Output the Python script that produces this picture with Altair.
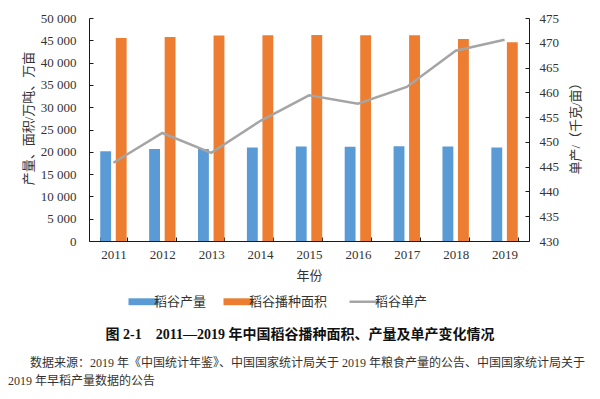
import altair as alt
import pandas as pd

# ---- data ----
years = ["2011", "2012", "2013", "2014", "2015", "2016", "2017", "2018", "2019"]
production = [20100, 20653, 20629, 20961, 21214, 21109, 21268, 21213, 20961]   # 万吨
area = [45507, 45714, 46065, 46148, 46176, 46119, 46121, 45284, 44541]         # 万亩
unit_yield = [445.8, 451.8, 447.8, 454.2, 459.4, 457.7, 461.1, 468.4, 470.6]   # 千克/亩

bar_series = ["稻谷产量", "稻谷播种面积"]
line_series = "稻谷单产"
series_colors = ["#5B9BD5", "#ED7D31", "#A5A5A5"]

left_ticks = [0, 5000, 10000, 15000, 20000, 25000, 30000, 35000, 40000, 45000, 50000]
right_ticks = [430, 435, 440, 445, 450, 455, 460, 465, 470, 475]

caption = "图 2-1　2011—2019 年中国稻谷播种面积、产量及单产变化情况"
source_1 = "数据来源：2019 年《中国统计年鉴》、中国国家统计局关于 2019 年粮食产量的公告、中国国家统计局关于"
source_2 = "2019 年早稻产量数据的公告"

# ---- tables ----
df_bars = pd.DataFrame(
    [{"年份": y, "系列": bar_series[0], "值": v} for y, v in zip(years, production)]
    + [{"年份": y, "系列": bar_series[1], "值": v} for y, v in zip(years, area)]
)
df_line = pd.DataFrame({"年份": years, "系列": [line_series] * len(years), "单产": unit_yield})

FONT = "Liberation Serif, Noto Sans CJK SC"
TXT = "#333333"
AX = "#1a1a1a"

color_scale = alt.Scale(domain=bar_series + [line_series], range=series_colors)

legend = alt.Legend(
    title=None,
    orient="none",
    legendX=48,
    legendY=277,
    direction="horizontal",
    symbolType={"expr": "datum.label == '稻谷单产' ? 'M-1,0H1' : 'M-1,-0.23H1V0.23H-1Z'"},
    symbolSize=900,
    symbolStrokeWidth={"expr": "datum.label == '稻谷单产' ? 2.5 : 0"},
    symbolStrokeColor={"expr": "scale('color', datum.value)"},
    symbolOpacity=1,
    labelFont=FONT,
    labelFontSize=13,
    labelColor=TXT,
    labelOffset=4,
    columnPadding=16,
)

x_enc = alt.X(
    "年份:N",
    sort=years,
    scale=alt.Scale(paddingInner=0.46, paddingOuter=0.23),
    axis=alt.Axis(
        title="年份",
        labelAngle=0,
        tickBand="extent",
        tickSize={"expr": "-4"},
        tickColor=AX,
        domainColor=AX,
        labelPadding=11,
        labelFont=FONT,
        labelFontSize=13,
        labelColor=TXT,
        titleFont=FONT,
        titleFontSize=13,
        titleFontWeight="normal",
        titleColor=TXT,
        titleY=34,
        titleBaseline="middle",
        grid=False,
    ),
)

bars = alt.Chart(df_bars).mark_bar().encode(
    x=x_enc,
    xOffset=alt.XOffset("系列:N", scale=alt.Scale(domain=bar_series, paddingInner=0.3)),
    y=alt.Y(
        "值:Q",
        scale=alt.Scale(domain=[0, 50000], nice=False),
        axis=alt.Axis(
            title="产量、面积/万吨、万亩",
            values=left_ticks,
            labelExpr="replace(format(datum.value, ','), ',', ' ')",
            grid=False,
            domainColor=AX,
            tickColor=AX,
            tickSize={"expr": "-4"},
            labelPadding=17,
            labelFont=FONT,
            labelFontSize=13,
            labelColor=TXT,
            titleFont=FONT,
            titleFontSize=13,
            titleFontWeight="normal",
            titleColor=TXT,
            titleX=-61,
            titleY=100,
            titleAngle=270,
            titleAlign="center",
            titleBaseline="middle",
        ),
    ),
    color=alt.Color("系列:N", scale=color_scale, legend=legend),
)

line = alt.Chart(df_line).mark_line(strokeWidth=2.5).encode(
    x=alt.X("年份:N", sort=years),
    y=alt.Y(
        "单产:Q",
        scale=alt.Scale(domain=[430, 475], nice=False, zero=False),
        axis=alt.Axis(
            orient="right",
            title="单产/（千克/亩）",
            values=right_ticks,
            grid=False,
            domainColor=AX,
            tickColor=AX,
            tickSize={"expr": "-4"},
            labelPadding=14,
            labelFont=FONT,
            labelFontSize=13,
            labelColor=TXT,
            titleFont=FONT,
            titleFontSize=13,
            titleFontWeight="normal",
            titleColor=TXT,
            titleX=46,
            titleY=107,
            titleAngle=270,
            titleAlign="center",
            titleBaseline="middle",
        ),
    ),
    color=alt.Color("系列:N", scale=color_scale, legend=legend),
)

cap = alt.Chart(pd.DataFrame({"t": [caption]})).mark_text(
    font=FONT, fontSize=14, fontWeight="bold", color="#111111", align="center", baseline="middle"
).encode(text="t:N", x=alt.value(211), y=alt.value(317))

src1 = alt.Chart(pd.DataFrame({"t": [source_1]})).mark_text(
    font=FONT, fontSize=12, color=TXT, align="left", baseline="middle"
).encode(text="t:N", x=alt.value(-59), y=alt.value(345))

src2 = alt.Chart(pd.DataFrame({"t": [source_2]})).mark_text(
    font=FONT, fontSize=12, color=TXT, align="left", baseline="middle"
).encode(text="t:N", x=alt.value(-81), y=alt.value(363))

chart = (
    alt.layer(bars, line, cap, src1, src2)
    .resolve_scale(y="independent")
    .properties(
        width=440,
        height=223,
        padding={"left": 81, "top": 10, "right": 63, "bottom": 150},
        autosize=alt.AutoSizeParams(type="none"),
        background="white",
    )
    .configure_view(strokeWidth=0)
)

chart.save("out.html", embed_options={"renderer": "svg", "actions": False})
